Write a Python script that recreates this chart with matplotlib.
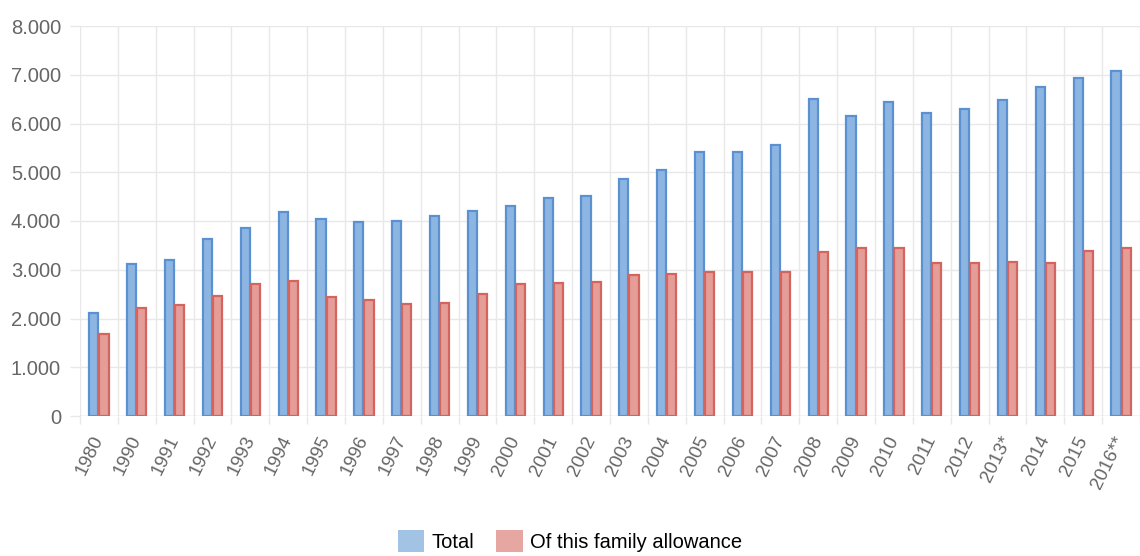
import matplotlib
matplotlib.use("Agg")
import matplotlib.pyplot as plt
import numpy as np
from matplotlib.ticker import FuncFormatter, MultipleLocator, FixedLocator
from matplotlib.patches import Patch

years = ["1980", "1990", "1991", "1992", "1993", "1994", "1995", "1996", "1997",
         "1998", "1999", "2000", "2001", "2002", "2003", "2004", "2005", "2006",
         "2007", "2008", "2009", "2010", "2011", "2012", "2013*", "2014", "2015",
         "2016**"]
total = [2120, 3110, 3190, 3630, 3860, 4190, 4050, 3970, 4000, 4110, 4200, 4310,
         4480, 4520, 4870, 5050, 5410, 5410, 5550, 6500, 6150, 6450, 6220, 6300,
         6490, 6740, 6940, 7070]
family_allowance = [1680, 2210, 2280, 2470, 2710, 2770, 2450, 2370, 2300, 2310,
                    2510, 2710, 2720, 2740, 2890, 2910, 2950, 2960, 2950, 3360,
                    3450, 3450, 3130, 3140, 3160, 3130, 3380, 3450]
series_labels = ["Total", "Of this family allowance"]

plt.rcParams["font.family"] = ["Liberation Sans", "DejaVu Sans"]

W, H = 1140, 556
PX = 72 / 100  # points per pixel at 100 dpi
fig = plt.figure(figsize=(W / 100, H / 100), dpi=100)
ax = fig.add_axes([80 / W, (H - 416) / H, 1060 / W, 390 / H])

x = np.arange(len(years))
bw = 0.24
grid_c = "#e8e8e8"

ax.bar(x - 0.135, total, width=bw, color="#8db5e2", edgecolor="#5b91d0",
       linewidth=1.6, zorder=3)
ax.bar(x + 0.135, family_allowance, width=bw, color="#e59d98", edgecolor="#d4655e",
       linewidth=1.6, zorder=3)

ax.set_xlim(-0.5, len(years) - 0.5)
ax.set_ylim(0, 8000)

for s in ax.spines.values():
    s.set_visible(False)

# y axis: gridlines with short ticks to the left
ax.yaxis.set_major_locator(MultipleLocator(1000))
ax.yaxis.set_major_formatter(FuncFormatter(lambda v, p: f"{int(v):,}".replace(",", ".")))
ax.tick_params(axis="y", length=10 * PX, width=1, color=grid_c, pad=9 * PX,
               labelsize=14.5, labelcolor="#666666")
ax.grid(axis="y", which="major", color=grid_c, linewidth=1, zorder=0)

# x axis: category labels at centres, gridlines at category boundaries
ax.set_xticks(x)
ax.set_xticklabels(years, rotation=64, ha="right", va="center", rotation_mode="anchor")
ax.tick_params(axis="x", which="major", length=0, pad=21 * PX, labelsize=13.5,
               labelcolor="#666666")
ax.xaxis.set_minor_locator(FixedLocator(np.arange(-0.5, len(years), 1.0)))
ax.tick_params(axis="x", which="minor", length=8 * PX, width=1, color=grid_c)
ax.grid(axis="x", which="minor", color=grid_c, linewidth=1, zorder=0)
ax.axhline(0, color="#dcdcdc", linewidth=1, zorder=2)

handles = [Patch(facecolor="#a3c3e4", edgecolor="none"),
           Patch(facecolor="#e6a6a2", edgecolor="none")]
fig.legend(handles, series_labels, loc="upper center",
           bbox_to_anchor=(0.5, (H - 512) / H), ncol=2, frameon=False,
           fontsize=14.5, handlelength=1.3, handleheight=1.3, handletextpad=0.35,
           columnspacing=1.1, labelcolor="#000000")

fig.savefig("out.png", dpi=100)
